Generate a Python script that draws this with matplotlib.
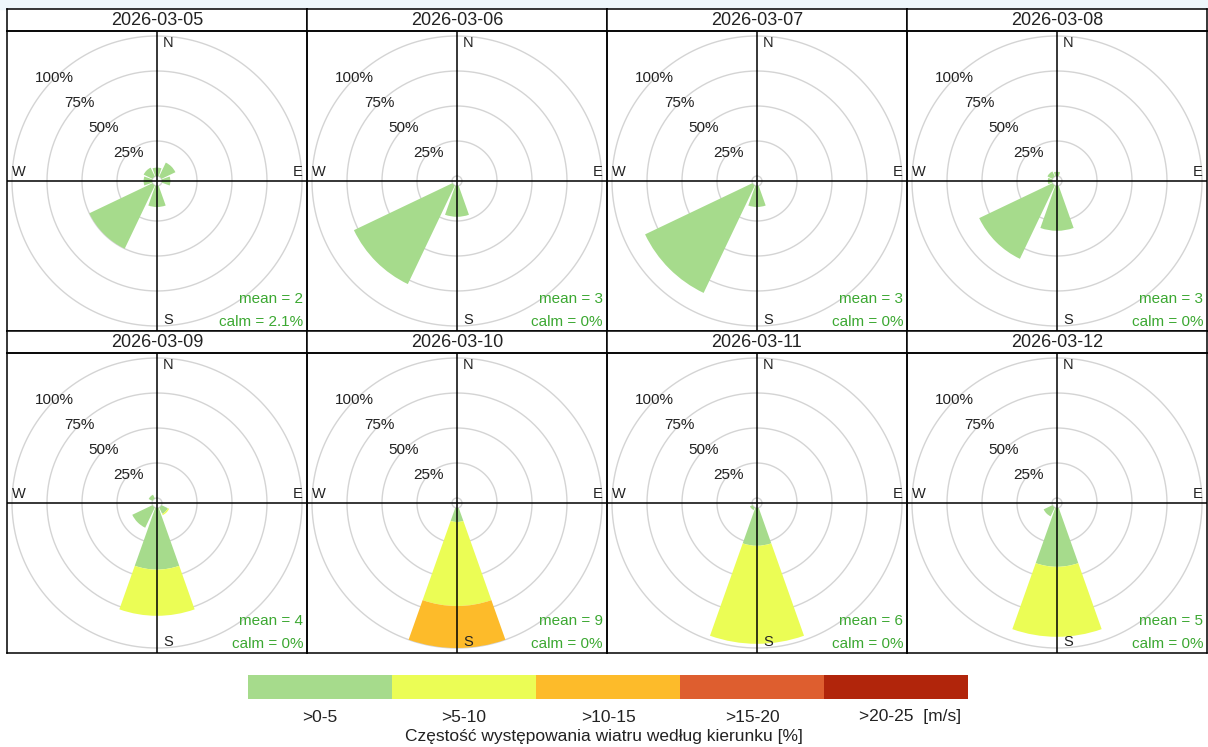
import numpy as np
import matplotlib

matplotlib.use("Agg")
import matplotlib.pyplot as plt
from matplotlib.patches import Rectangle

plt.rcParams["font.family"] = ["Liberation Sans", "DejaVu Sans"]

FIG_W_PX = 1208
FIG_H_PX = 747
DPI = 100

# one panel per day
DATES = [
    "2026-03-05", "2026-03-06", "2026-03-07", "2026-03-08",
    "2026-03-09", "2026-03-10", "2026-03-11", "2026-03-12",
]
MEANS = [2, 3, 3, 3, 4, 9, 6, 5]
CALMS = [2.1, 0, 0, 0, 0, 0, 0, 0]

# sector centres (deg from north, clockwise): N, NE, E, SE, S, SW, W, NW
SECTORS_DEG = [0, 45, 90, 135, 180, 225, 270, 315]

SPEED_LABELS = [">0-5", ">5-10", ">10-15", ">15-20", ">20-25  [m/s]"]
SPEED_COLORS = ["#a6db8c", "#ebfd55", "#fdbb2a", "#de5e2f", "#b1250b"]

# frequency [%] per sector, one row per day
FREQ_0_5 = [
    [6, 11, 6, 0, 15, 50, 6, 7],
    [0, 0, 0, 0, 22, 78, 0, 0],
    [0, 0, 0, 0, 15, 85, 0, 0],
    [3, 0, 0, 0, 32, 58, 3, 4],
    [0, 0, 0, 5, 44, 16, 0, 3],
    [0, 0, 0, 0, 10, 0, 0, 0],
    [0, 0, 0, 0, 27, 2, 0, 0],
    [0, 0, 0, 0, 42, 7, 0, 0],
]
FREQ_5_10 = [
    [0, 0, 0, 0, 0, 0, 0, 0],
    [0, 0, 0, 0, 0, 0, 0, 0],
    [0, 0, 0, 0, 0, 0, 0, 0],
    [0, 0, 0, 0, 0, 0, 0, 0],
    [0, 0, 0, 1, 33, 0, 0, 0],
    [0, 0, 0, 0, 60, 0, 0, 0],
    [0, 0, 0, 0, 70, 0, 0, 0],
    [0, 0, 0, 0, 50, 0, 0, 0],
]
FREQ_10_15 = [
    [0, 0, 0, 0, 0, 0, 0, 0],
    [0, 0, 0, 0, 0, 0, 0, 0],
    [0, 0, 0, 0, 0, 0, 0, 0],
    [0, 0, 0, 0, 0, 0, 0, 0],
    [0, 0, 0, 0, 0, 0, 0, 0],
    [0, 0, 0, 0, 30, 0, 0, 0],
    [0, 0, 0, 0, 0, 0, 0, 0],
    [0, 0, 0, 0, 0, 0, 0, 0],
]

RING_VALUES = [25, 50, 75, 100]
R_MIN = -3.57
R_MAX = 103.57
SECTOR_WIDTH_DEG = 39

TEXT_GREEN = "#3ca832"
RING_GREY = "#d4d4d4"


def px_rect(left: float, top: float, width: float, height: float) -> list[float]:
    """Convert a pixel box (top-left origin) to figure fractions."""
    return [
        left / FIG_W_PX,
        1 - (top + height) / FIG_H_PX,
        width / FIG_W_PX,
        height / FIG_H_PX,
    ]


def draw_panel(fig, idx: int) -> None:
    col = idx % 4
    row = idx // 4
    left = 7 + 300 * col
    head_top = 9 + 322 * row
    top = head_top + 22

    # header strip
    hd = fig.add_axes(px_rect(left, head_top, 300, 22))
    hd.set_xticks([])
    hd.set_yticks([])
    for sp in hd.spines.values():
        sp.set_linewidth(1.1)
    hd.text(0.5, 0.47, DATES[idx], ha="center", va="center", fontsize=13, color="#222222",
            transform=hd.transAxes)

    # rose
    ax = fig.add_axes(px_rect(left, top, 300, 300), projection="polar")
    ax.set_theta_zero_location("N")
    ax.set_theta_direction(-1)
    ax.axis("off")

    full = np.linspace(0, 2 * np.pi, 361)
    for rv in [0] + RING_VALUES:
        ax.plot(full, np.full_like(full, rv), color=RING_GREY, lw=1.0, zorder=1)

    theta = np.deg2rad(SECTORS_DEG)
    bottom = np.zeros(len(SECTORS_DEG))
    for freq, color in zip([FREQ_0_5, FREQ_5_10, FREQ_10_15], SPEED_COLORS):
        vals = np.array(freq[idx], dtype=float)
        ax.bar(theta, vals, width=np.deg2rad(SECTOR_WIDTH_DEG), bottom=bottom,
               color=color, linewidth=0, zorder=2)
        bottom += vals

    for rv in RING_VALUES:
        ax.text(np.deg2rad(315), rv, f"{rv}%", ha="center", va="center",
                fontsize=11, color="#222222", zorder=3)
    ax.set_ylim(R_MIN, R_MAX)

    # frame with crosshair and labels on top
    fr = fig.add_axes(px_rect(left, top, 300, 300))
    fr.patch.set_alpha(0)
    fr.set_xlim(0, 300)
    fr.set_ylim(300, 0)
    fr.set_xticks([])
    fr.set_yticks([])
    for sp in fr.spines.values():
        sp.set_linewidth(1.1)
    fr.axvline(150, color="black", lw=1.1)
    fr.axhline(150, color="black", lw=1.1)
    fr.text(156, 12, "N", ha="left", va="center", fontsize=10.5, color="#222222")
    fr.text(156, 289, "S", ha="left", va="center", fontsize=10.5, color="#222222")
    fr.text(5, 141, "W", ha="left", va="center", fontsize=10.5, color="#222222")
    fr.text(296, 141, "E", ha="right", va="center", fontsize=10.5, color="#222222")
    fr.text(296, 268, f"mean = {MEANS[idx]}", ha="right", va="center",
            fontsize=11, color=TEXT_GREEN)
    fr.text(296, 291, f"calm = {CALMS[idx]:g}%", ha="right", va="center",
            fontsize=11, color=TEXT_GREEN)


def draw_key(fig) -> None:
    cb = fig.add_axes(px_rect(248, 675, 720, 24))
    n = len(SPEED_LABELS)
    cb.barh(0, np.ones(n), left=np.arange(n), height=1, color=SPEED_COLORS, linewidth=0)
    cb.set_xlim(0, n)
    cb.set_ylim(-0.5, 0.5)
    cb.axis("off")
    for k, lab in enumerate(SPEED_LABELS):
        x = k + 0.5 + (0.1 if k == n - 1 else 0)
        cb.text(x, -1.25, lab, ha="center", va="center", fontsize=12.5, color="#222222",
                clip_on=False)
    fig.text(604 / FIG_W_PX, 1 - 736 / FIG_H_PX,
             "Częstość występowania wiatru według kierunku [%]",
             ha="center", va="center", fontsize=12.5, color="#222222")


def main() -> None:
    fig = plt.figure(figsize=(FIG_W_PX / DPI, FIG_H_PX / DPI), dpi=DPI)
    fig.patches.append(Rectangle((0, 1 - 9 / FIG_H_PX), 1, 9 / FIG_H_PX,
                                 transform=fig.transFigure, color="#eef7fb", zorder=-1))
    for i in range(len(DATES)):
        draw_panel(fig, i)
    draw_key(fig)
    fig.savefig("out.png", dpi=DPI)


if __name__ == "__main__":
    main()
